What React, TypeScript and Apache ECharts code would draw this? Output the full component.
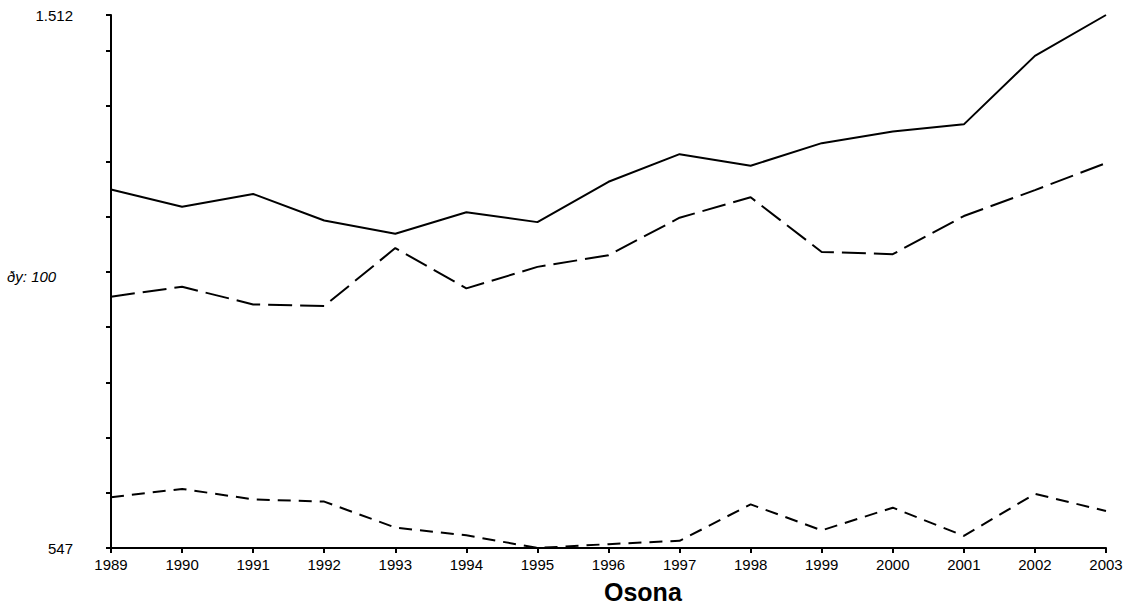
import React, { useEffect, useRef } from "react";
import * as echarts from "echarts";

const years = ["1989","1990","1991","1992","1993","1994","1995","1996","1997","1998","1999","2000","2001","2002","2003"];
const seriesSolid = [1196,1165,1188,1140,1116,1155,1137,1210,1260,1239,1280,1301,1314,1438,1512];
const seriesLongDash = [1002,1020,988,985,1090,1017,1056,1077,1145,1182,1083,1079,1148,1195,1244];
const seriesShortDash = [639,654,635,631,584,570,547,554,560,626,579,620,569,645,614];
const yMin = 547;
const yMax = 1512;
const yTickValues = [547,647,747,847,947,1047,1147,1247,1347,1447,1512];
const yLabelValues = [547,1512];
const yLabelTexts: Record<number,string> = { 547: "547", 1512: "1.512" };
const stepLabel = "ðy: 100";
const chartTitle = "Osona";

const FONT = '"Liberation Sans", Arial, sans-serif';

export default function App() {
  const ref = useRef<HTMLDivElement>(null);
  useEffect(() => {
    document.body.style.margin = "0";
    if (!ref.current) return;
    const chart = echarts.init(ref.current, null, { renderer: "svg" });
    chart.setOption({
      animation: false,
      backgroundColor: "#ffffff",
      title: {
        text: chartTitle,
        left: 604,
        top: 579,
        padding: 0,
        textStyle: { fontSize: 25, fontWeight: "bold", fontFamily: FONT, color: "#000" },
      },
      grid: { left: 111, right: 21, top: 15, bottom: 59, containLabel: false },
      xAxis: {
        type: "category",
        data: years,
        boundaryGap: false,
        axisLine: { lineStyle: { color: "#000", width: 2 } },
        axisTick: { show: true, length: 5, lineStyle: { color: "#000", width: 2 }, alignWithLabel: true },
        axisLabel: { color: "#000", fontSize: 15, fontFamily: FONT, margin: 9, interval: 0 },
        splitLine: { show: false },
      },
      yAxis: {
        type: "value",
        min: yMin,
        max: yMax,
        axisLine: { show: true, lineStyle: { color: "#000", width: 2 } },
        axisTick: { show: true, length: 5, lineStyle: { color: "#000", width: 2 }, customValues: yTickValues },
        axisLabel: {
          color: "#000",
          fontSize: 15,
          fontFamily: FONT,
          margin: 38,
          customValues: yLabelValues,
          formatter: (v: number) => yLabelTexts[v] ?? "",
        },
        splitLine: { show: false },
      },
      graphic: [
        {
          type: "text",
          left: 7,
          top: 269,
          style: { text: stepLabel, font: `italic 15px ${FONT}`, fill: "#000" },
        },
      ],
      series: [
        {
          type: "line",
          data: seriesSolid,
          symbol: "none",
          lineStyle: { color: "#000", width: 2, type: "solid" },
        },
        {
          type: "line",
          data: seriesLongDash,
          symbol: "none",
          lineStyle: { color: "#000", width: 2, type: [24, 8] },
        },
        {
          type: "line",
          data: seriesShortDash,
          symbol: "none",
          lineStyle: { color: "#000", width: 2, type: [13, 8] },
        },
      ],
    });
    return () => chart.dispose();
  }, []);
  return <div ref={ref} style={{ width: 1127, height: 607 }} />;
}
